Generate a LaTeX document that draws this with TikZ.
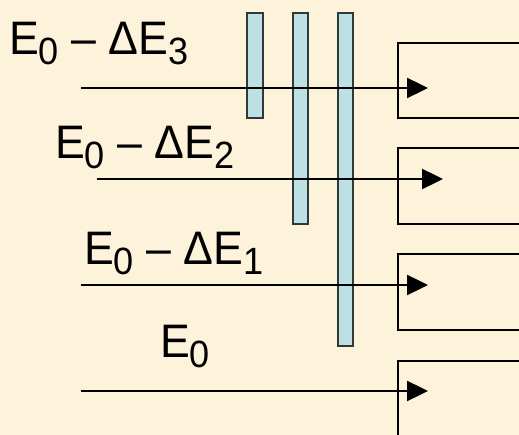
\documentclass[tikz,border=0pt]{standalone}
\usepackage{fontspec}
\setmainfont{Liberation Sans}[FakeStretch=0.95]
\usetikzlibrary{arrows.meta}
\definecolor{bgc}{HTML}{FDF2DA}
\definecolor{barc}{HTML}{BCE0E3}
\definecolor{barl}{HTML}{303838}
\newcommand\sbs[1]{\raisebox{-10pt}{\fontsize{38}{38}\selectfont #1}}
\tikzset{
  barbox/.style={draw=barl, line width=1.5pt, fill=barc},
  detbox/.style={draw=black, line width=2.2pt},
  beam/.style={line width=2.4pt, arrows={-Triangle[length=21pt,width=20pt]}},
  lbl/.style={anchor=base west, inner sep=0pt, font=\fontsize{47}{47}\selectfont}
}
\begin{document}
\begin{tikzpicture}[x=1pt,y=-1pt]
\fill[bgc] (0,0) rectangle (519,435);
\useasboundingbox (0,0) rectangle (519,435);
\clip (0,0) rectangle (519,435);
% detector boxes
\draw[detbox] (398,43) rectangle (530,118);
\draw[detbox] (398,148) rectangle (530,224);
\draw[detbox] (398,254) rectangle (530,330);
\draw[detbox] (398,361) rectangle (530,445);
% absorber bars
\node[barbox, minimum width=16pt, minimum height=105pt, inner sep=0pt] (b1) at (255,65.5) {};
\node[barbox, minimum width=15pt, minimum height=211pt, inner sep=0pt] (b2) at (300.5,118.5) {};
\node[barbox, minimum width=15pt, minimum height=333pt, inner sep=0pt] (b3) at (345.5,179.5) {};
% beams
\coordinate (s1) at (81,88);   \coordinate (t1) at (428,88);
\coordinate (s2) at (97,179);  \coordinate (t2) at (443,179);
\coordinate (s3) at (81,285);  \coordinate (t3) at (428,285);
\coordinate (s4) at (81,391);  \coordinate (t4) at (428,391);
\draw[beam] (s1) -- (t1);
\draw[beam] (s2) -- (t2);
\draw[beam] (s3) -- (t3);
\draw[beam] (s4) -- (t4);
% labels
\node[lbl] (l1) at (9,55) {E\sbs{0} – ΔE\sbs{3}};
\node[lbl] (l2) at (55,159) {E\sbs{0} – ΔE\sbs{2}};
\node[lbl] (l3) at (84,265) {E\sbs{0} – ΔE\sbs{1}};
\node[lbl] (l4) at (160,357) {E\sbs{0}};
\end{tikzpicture}
\end{document}
